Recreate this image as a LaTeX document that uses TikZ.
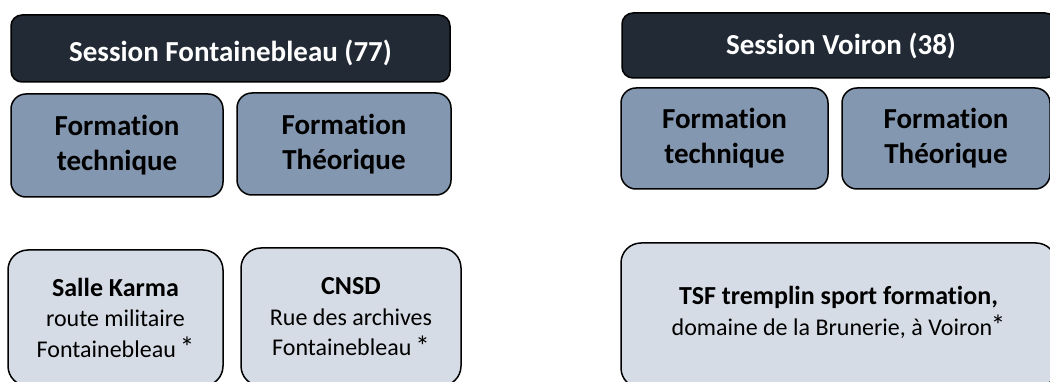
\documentclass[tikz,border=0pt]{standalone}
\usepackage{fontspec}
\setmainfont{Carlito}[Ligatures=NoCommon]
\definecolor{hdark}{HTML}{222A35}
\definecolor{hmid}{HTML}{8497B0}
\definecolor{hlight}{HTML}{D6DCE5}
\newcommand{\myast}{\kern-1.5pt\raisebox{-0.5pt}{\fontsize{29}{29}\selectfont*}}
\newcommand{\mybl}[1]{{\fontsize{26}{30.5}\selectfont\bfseries #1}}
\tikzset{
  box/.style={draw=black, line width=1.5pt, align=center, inner sep=0pt},
  headbox/.style={box, fill=hdark, text=white, rounded corners=11pt, font=\fontsize{29}{35}\selectfont\bfseries},
  midbox/.style={box, fill=hmid, rounded corners=15pt, font=\fontsize{29}{35}\selectfont\bfseries},
  lowbox/.style={box, fill=hlight, rounded corners=20pt, font=\fontsize{24}{30.5}\selectfont},
  lowtext/.style={align=center, inner sep=0pt, font=\fontsize{24}{30.5}\selectfont},
}
\begin{document}
\begin{tikzpicture}[x=1pt,y=-1pt]
\useasboundingbox (0,0) rectangle (1050,382);
\clip (0,0) rectangle (1050,382);
% Fontainebleau
\node[headbox, minimum width=439pt, minimum height=67pt] (h1) at (230.5,48.5) {};
\node[text=white, font=\fontsize{29}{35}\selectfont\bfseries, inner sep=0pt] (h1t) at ([yshift=-4pt]h1.center) {Session Fontainebleau (77)};
\node[midbox, minimum width=212pt, minimum height=103pt] (ft1) at (117,145.5) {Formation\\technique};
\node[midbox, minimum width=214pt, minimum height=102pt] (fth1) at (344,144) {Formation\\Théorique};
\node[lowbox, minimum width=215pt, minimum height=136pt] (sk) at (115.5,318) {\mybl{Salle Karma}\\route militaire\\Fontainebleau \myast};
\node[lowbox, minimum width=220pt, minimum height=138pt] (cnsd) at (351,317) {\mybl{CNSD}\\Rue des archives\\Fontainebleau \myast};
% Voiron
\node[headbox, minimum width=434pt, minimum height=65pt] (h2) at (839,45.5) {\hspace*{4pt}Session Voiron (38)};
\node[midbox, minimum width=207pt, minimum height=101pt] (ft2) at (724.5,138.5) {Formation\\technique};
\node[midbox, minimum width=208pt, minimum height=101pt] (fth2) at (946,138.5) {Formation\\Théorique};
\node[lowbox, minimum width=435pt, minimum height=145pt] (tsf) at (838.5,315.5) {};
\node[lowtext] (tsft) at ([yshift=3pt]tsf.center) {\mybl{TSF tremplin sport formation,}\\domaine de la Brunerie, à Voiron\myast};
\end{tikzpicture}
\end{document}
